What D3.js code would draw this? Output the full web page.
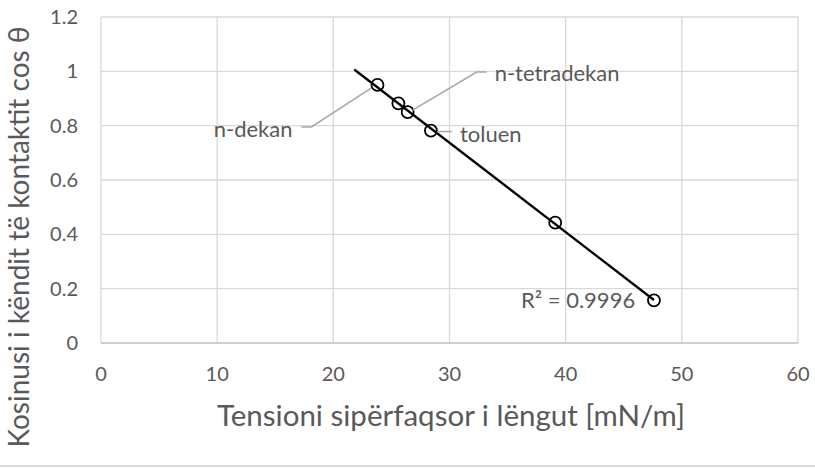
<!DOCTYPE html>
<html>
<head>
<meta charset="utf-8">
<script src="https://cdn.jsdelivr.net/npm/d3@7"></script>
<style>
  body { margin: 0; background: #fff; }
  svg text { font-family: Lato, "Open Sans", sans-serif; fill: #595959; }
</style>
</head>
<body>
<div id="grafik"></div>
<script>
// Të dhënat e lexuara nga grafiku
const tensioni = [23.8, 25.6, 26.4, 28.4, 39.1, 47.6];
const cosTheta = [0.95, 0.882, 0.85, 0.782, 0.443, 0.157];
const etiketat = ["n-dekan", "", "n-tetradekan", "toluen", "", ""];
const xTicks = [0, 10, 20, 30, 40, 50, 60];
const yTicks = [0, 0.2, 0.4, 0.6, 0.8, 1, 1.2];
const r2Tekst = "R² = 0.9996";

const width = 815, height = 469;
const margin = { top: 17, right: 17, bottom: 126, left: 101 };

const svg = d3.select("#grafik").append("svg")
  .attr("width", width)
  .attr("height", height);

const x = d3.scaleLinear().domain([0, 60]).range([margin.left, width - margin.right]);
const y = d3.scaleLinear().domain([0, 1.2]).range([height - margin.bottom, margin.top]);

// rrjeta
svg.append("g")
  .selectAll("line")
  .data(xTicks)
  .join("line")
  .attr("x1", d => x(d)).attr("x2", d => x(d))
  .attr("y1", y(0)).attr("y2", y(1.2))
  .attr("stroke", "#d9d9d9").attr("stroke-width", 1.3);

svg.append("g")
  .selectAll("line")
  .data(yTicks)
  .join("line")
  .attr("x1", x(0)).attr("x2", x(60))
  .attr("y1", d => y(d)).attr("y2", d => y(d))
  .attr("stroke", d => d === 0 ? "#bfbfbf" : "#d9d9d9").attr("stroke-width", 1.3);

// etiketat e boshteve
svg.append("g")
  .selectAll("text")
  .data(xTicks)
  .join("text")
  .attr("x", d => x(d))
  .attr("y", y(0) + 38)
  .attr("text-anchor", "middle")
  .attr("font-size", 20)
  .text(d => d);

svg.append("g")
  .selectAll("text")
  .data(yTicks)
  .join("text")
  .attr("x", x(0) - 23)
  .attr("y", d => y(d) + 7)
  .attr("text-anchor", "end")
  .attr("font-size", 20)
  .text(d => d);

svg.append("text")
  .attr("x", 451)
  .attr("y", 426)
  .attr("text-anchor", "middle")
  .attr("font-size", 29.5)
  .text("Tensioni sipërfaqsor i lëngut [mN/m]");

svg.append("text")
  .attr("transform", `translate(29, 237) rotate(-90)`)
  .attr("text-anchor", "middle")
  .attr("font-size", 28)
  .text("Kosinusi i këndit të kontaktit cos θ");

// vija e trendit (regresion linear, parashikim prapa 2 njësi)
const mx = d3.mean(tensioni), my = d3.mean(cosTheta);
const pjerresia = d3.sum(tensioni, (t, i) => (t - mx) * (cosTheta[i] - my)) /
  d3.sum(tensioni, t => (t - mx) * (t - mx));
const prerja = my - pjerresia * mx;
const xFillim = d3.min(tensioni) - 2, xFund = d3.max(tensioni);

svg.append("line")
  .attr("x1", x(xFillim)).attr("y1", y(prerja + pjerresia * xFillim))
  .attr("x2", x(xFund)).attr("y2", y(prerja + pjerresia * xFund))
  .attr("stroke", "#000").attr("stroke-width", 2.3);

// pikat
const pikat = tensioni.map((t, i) => ({ t, c: cosTheta[i], emri: etiketat[i] }));

svg.append("g")
  .selectAll("circle")
  .data(pikat)
  .join("circle")
  .attr("cx", d => x(d.t))
  .attr("cy", d => y(d.c))
  .attr("r", 6)
  .attr("fill", "none")
  .attr("stroke", "#000")
  .attr("stroke-width", 1.8);

// etiketat me vija udhëzuese (zhvendosje në piksel nga pika)
const udhezues = {
  "n-dekan": { leader: [[-6, 3], [-66, 42], [-76, 42]], tx: -85, ty: 52, anchor: "end" },
  "n-tetradekan": { leader: [[5, -2], [69, -40], [79, -40]], tx: 87, ty: -31, anchor: "start" },
  "toluen": { leader: [[6, 1], [21, 1]], tx: 29, ty: 11, anchor: "start" }
};

pikat.filter(d => d.emri).forEach(d => {
  const u = udhezues[d.emri];
  const px = x(d.t), py = y(d.c);
  svg.append("polyline")
    .attr("points", u.leader.map(p => `${px + p[0]},${py + p[1]}`).join(" "))
    .attr("fill", "none")
    .attr("stroke", "#a6a6a6")
    .attr("stroke-width", 1.5);
  svg.append("text")
    .attr("x", px + u.tx)
    .attr("y", py + u.ty)
    .attr("text-anchor", u.anchor)
    .attr("font-size", 22)
    .text(d.emri);
});

svg.append("text")
  .attr("x", 521)
  .attr("y", 308)
  .attr("font-size", 22)
  .text(r2Tekst);

// korniza poshtë
svg.append("line")
  .attr("x1", 0).attr("x2", width)
  .attr("y1", 466).attr("y2", 466)
  .attr("stroke", "#d9d9d9").attr("stroke-width", 2);
</script>
</body>
</html>
